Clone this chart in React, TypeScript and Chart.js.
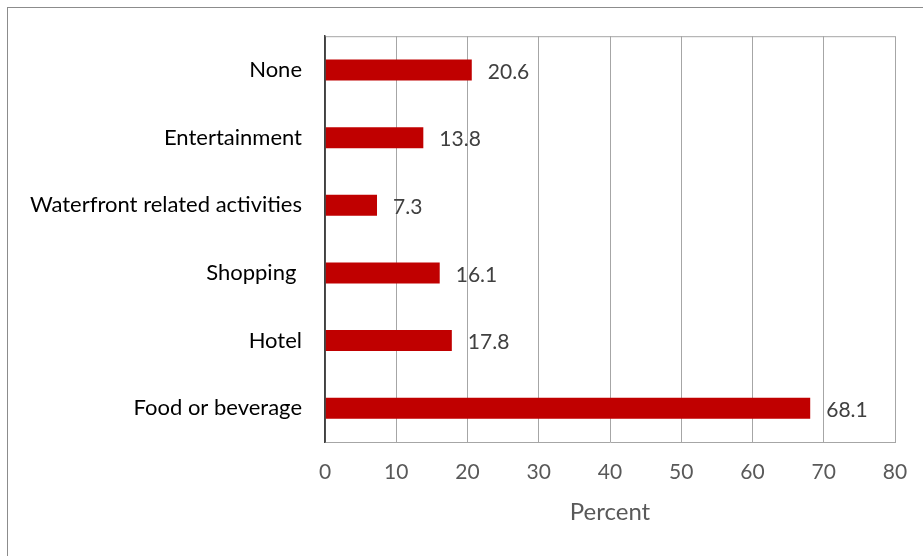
import React, { useEffect, useRef } from "react";
import { Chart, registerables } from "chart.js";

Chart.register(...registerables);

const categories = [
  "None",
  "Entertainment",
  "Waterfront related activities",
  "Shopping ",
  "Hotel",
  "Food or beverage",
];
const percentValues = [20.6, 13.8, 7.3, 16.1, 17.8, 68.1];
const xTicks = [0, 10, 20, 30, 40, 50, 60, 70, 80];

const FONT = "Lato, 'Open Sans', sans-serif";

const framePlugin = {
  id: "framePlugin",
  afterDraw(chart: any) {
    const { ctx, chartArea } = chart;
    ctx.save();
    ctx.strokeStyle = "#a6a6a6";
    ctx.lineWidth = 1;
    ctx.beginPath();
    ctx.moveTo(chartArea.left, chartArea.top + 0.5);
    ctx.lineTo(chartArea.right, chartArea.top + 0.5);
    ctx.stroke();
    ctx.strokeStyle = "#404040";
    ctx.lineWidth = 1.5;
    ctx.beginPath();
    ctx.moveTo(chartArea.left, chartArea.top);
    ctx.lineTo(chartArea.left, chartArea.bottom);
    ctx.stroke();
    ctx.restore();
  },
};

const labelPlugin = {
  id: "valueLabels",
  afterDatasetsDraw(chart: any) {
    const { ctx } = chart;
    const meta = chart.getDatasetMeta(0);
    ctx.save();
    ctx.fillStyle = "#404040";
    ctx.font = `21px ${FONT}`;
    ctx.textAlign = "left";
    ctx.textBaseline = "middle";
    meta.data.forEach((el: any, i: number) => {
      ctx.fillText(percentValues[i].toFixed(1), el.x + 16, el.y + 2);
    });
    ctx.restore();
  },
};

export default function App() {
  const ref = useRef<HTMLCanvasElement>(null);
  useEffect(() => {
    if (!ref.current) return;
    const chart = new Chart(ref.current, {
      type: "bar",
      data: {
        labels: categories,
        datasets: [
          {
            data: percentValues,
            backgroundColor: "#C00000",
            borderWidth: 0,
            categoryPercentage: 1,
            barPercentage: 0.31,
          },
        ],
      },
      options: {
        indexAxis: "y",
        animation: false,
        responsive: false,
        maintainAspectRatio: false,
        layout: { padding: { top: 36, right: 28, left: 0, bottom: 0 } },
        plugins: {
          legend: { display: false },
          tooltip: { enabled: false },
          title: { display: false },
        },
        scales: {
          x: {
            min: 0,
            max: 80,
            afterBuildTicks: (scale: any) => {
              scale.ticks = xTicks.map((v) => ({ value: v }));
            },
            afterFit: (scale: any) => {
              scale.height = 114;
              scale.paddingRight = 0;
              scale.paddingLeft = 0;
            },
            grid: {
              color: "#a6a6a6",
              lineWidth: 1,
              drawTicks: false,
            },
            border: { display: true, color: "#a6a6a6", width: 1 },
            ticks: {
              color: "#595959",
              font: { family: FONT, size: 21 },
              padding: 18,
            },
            title: {
              display: true,
              text: "Percent",
              color: "#595959",
              font: { family: FONT, size: 24 },
              padding: { top: 10, bottom: 29 },
            },
          },
          y: {
            afterFit: (scale: any) => {
              scale.width = 325;
            },
            grid: { display: false, drawTicks: false },
            border: { display: true, color: "#404040", width: 1.5 },
            ticks: {
              color: "#000000",
              font: { family: FONT, size: 22 },
              padding: 23,
            },
          },
        },
      },
      plugins: [labelPlugin, framePlugin],
    });
    return () => chart.destroy();
  }, []);

  return (
    <div
      style={{
        position: "fixed",
        left: 0,
        top: 0,
        width: 923,
        height: 556,
        background: "#ffffff",
        overflow: "hidden",
      }}
    >
      <div
        style={{
          position: "absolute",
          left: 7,
          top: 7,
          width: 960,
          height: 600,
          border: "1px solid #8c8c8c",
          boxSizing: "border-box",
        }}
      />
      <canvas
        ref={ref}
        width={923}
        height={556}
        style={{ position: "absolute", left: 0, top: 0, width: 923, height: 556 }}
      />
    </div>
  );
}
